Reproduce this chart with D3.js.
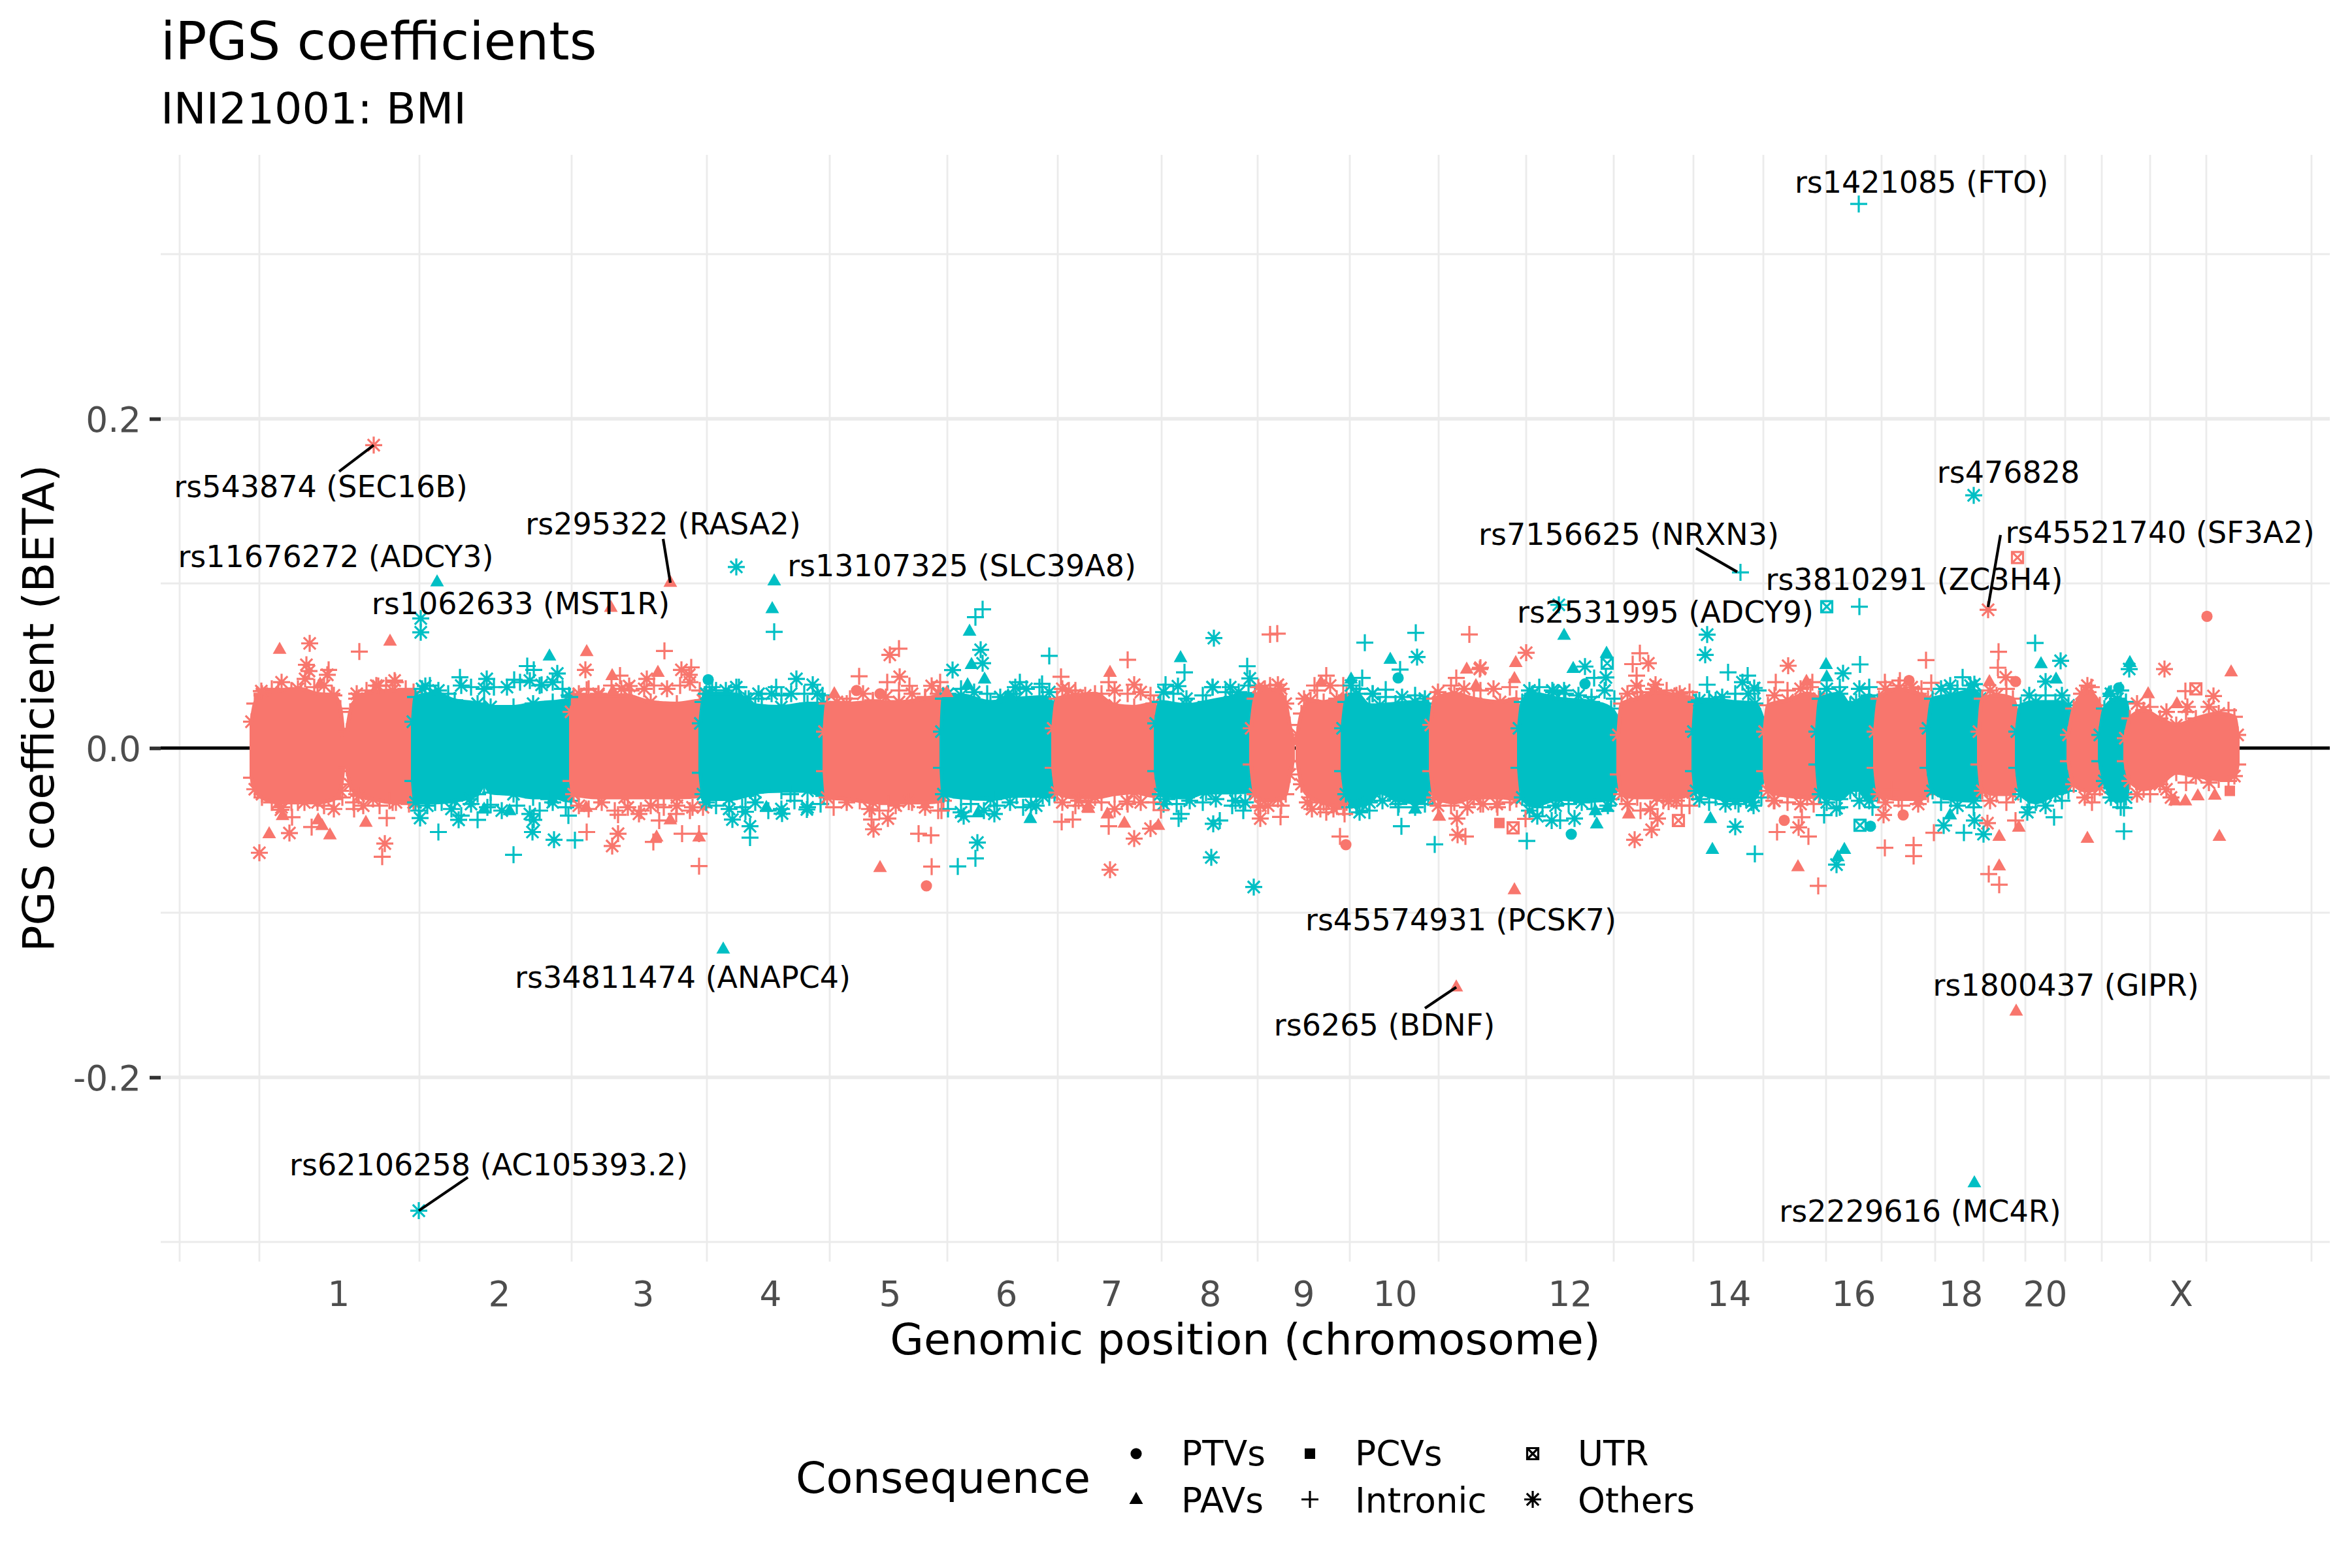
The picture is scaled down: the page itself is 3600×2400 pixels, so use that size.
<!DOCTYPE html>
<html><head><meta charset="utf-8">
<script src="https://d3js.org/d3.v7.min.js"></script>
<style>html,body{margin:0;background:#fff}svg{display:block}text{font-family:"DejaVu Sans",sans-serif}</style>
</head><body><div id="c"></div>
<script>
// Position = cumulative genomic position (Mb-like units); coefficient values are BETA x 1000.
const chromLabels=["1","2","3","4","5","6","7","8","9","10","12","14","16","18","20","X"];
const chromMids=[122,368,588,783,966,1144,1305,1456,1599,1739,2007,2250,2441,2605,2734,2942];
const chromEdges=[-121,1,246,479,686,874,1054,1223,1382,1529,1670,1806,1940,2074,2196,2303,2399,2484,2566,2640,2704,2765,2821,2895,2981,3142];
const yMajor=[-0.2,0,0.2];
const yMinor=[-0.3,-0.1,0.1,0.3];

// Dense band outline for each chromosome stretch: [position, upper, lower]
const bandsOdd=[
 [[-11,16,-18],[-6,27,-25],[5,33,-30],[30,35,-33],[60,36,-33],[90,33,-33],[115,32,-31],[125,24,-26],[129,10,-14]],
 [[135,10,-12],[140,22,-22],[150,30,-28],[175,34,-31],[205,35,-33],[237,34,-33]],
 [[478,22,-20],[482,31,-28],[520,32,-30],[560,32,-30],[600,28,-30],[640,27,-30],[680,29,-29],[684,12,-14]],
 [[866,10,-14],[870,27,-30],[900,27,-31],[940,28,-33],[980,28,-33],[1020,30,-33],[1048,32,-32],[1052,12,-15]],
 [[1216,12,-12],[1222,30,-27],[1250,32,-30],[1280,33,-30],[1310,26,-28],[1340,25,-27],[1370,27,-29],[1375,14,-15]],
 [[1519,12,-10],[1525,30,-28],[1540,36,-32],[1560,35,-31],[1572,27,-28],[1578,14,-16],[1583,4,-8]],
 [[1590,8,-8],[1596,21,-22],[1610,29,-30],[1630,28,-33],[1650,30,-35],[1665,32,-33],[1668,12,-14]],
 [[1794,14,-14],[1800,30,-30],[1830,33,-33],[1860,30,-30],[1900,28,-30],[1925,30,-31],[1930,12,-16]],
 [[2081,8,-16],[2086,27,-28],[2110,30,-30],[2140,34,-30],[2170,32,-30],[2195,30,-27],[2198,14,-18]],
 [[2305,10,-14],[2310,26,-26],[2340,29,-29],[2370,33,-30],[2388,30,-28],[2390,12,-14]],
 [[2474,10,-12],[2480,30,-28],[2510,36,-31],[2540,33,-31],[2555,30,-28],[2558,12,-12]],
 [[2633,10,-10],[2638,30,-26],[2660,32,-28],[2685,30,-28],[2694,12,-12]],
 [[2770,8,-8],[2778,24,-22],[2800,34,-26],[2818,26,-24],[2826,8,-8]],
 [[2857,6,-8],[2864,18,-20],[2885,23,-25],[2910,18,-22],[2935,14,-15],[2965,18,-17],[3000,21,-19],[3024,19,-17],[3029,8,-10]]
];
const bandsEven=[
 [[236,16,-20],[240,31,-33],[270,33,-33],[300,29,-32],[335,27,-28],[345,26,-22],[355,25,-27],[390,25,-28],[420,27,-30],[450,28,-30],[478,29,-32],[482,10,-15]],
 [[676,15,-15],[680,28,-28],[690,33,-31],[720,33,-31],[745,30,-29],[760,26,-27],[800,25,-26],[840,27,-26],[865,27,-29],[868,10,-12]],
 [[1045,10,-12],[1048,30,-28],[1075,32,-30],[1120,28,-31],[1160,30,-29],[1200,31,-29],[1218,26,-28],[1222,10,-12]],
 [[1373,15,-14],[1380,28,-28],[1420,26,-30],[1450,28,-27],[1490,31,-27],[1525,33,-26],[1530,14,-14]],
 [[1659,12,-14],[1664,28,-28],[1680,33,-35],[1700,26,-33],[1716,26,-27],[1740,27,-31],[1770,28,-33],[1790,27,-30],[1797,12,-13]],
 [[1929,12,-12],[1934,28,-30],[1950,33,-35],[1990,30,-31],[2040,28,-32],[2070,24,-31],[2082,16,-20]],
 [[2196,10,-14],[2200,28,-26],[2230,29,-30],[2260,28,-32],[2290,27,-30],[2305,14,-16]],
 [[2385,10,-10],[2390,30,-28],[2420,33,-31],[2436,26,-26],[2445,28,-24],[2465,32,-32],[2478,28,-28]],
 [[2555,12,-12],[2562,30,-26],[2590,32,-31],[2625,35,-32],[2635,30,-26],[2640,12,-12]],
 [[2691,10,-12],[2697,26,-28],[2720,28,-33],[2750,28,-28],[2770,26,-26],[2775,10,-12]],
 [[2818,8,-8],[2825,24,-20],[2845,30,-32],[2858,28,-30],[2864,8,-12]]
];
// Fringe of the dense bands, read along their upper and lower edges: [position, BETA x 1000]
const fringeOdd=[[5,32],[20,36],[35,40],[50,35],[65,33],[85,37],[100,38],[112,33],[150,33],[165,35],[180,38],[195,38],[208,41],[225,36],[235,31],
 [5,-28],[20,-33],[35,-36],[50,-33],[70,-33],[100,-35],[115,-37],[128,-30],[145,-33],[160,-35],[185,-35],[210,-33],[230,-34],
 [490,33],[505,36],[520,33],[540,38],[555,36],[570,35],[590,36],[605,38],[625,36],[645,38],[660,40],[675,35],
 [490,-35],[505,-37],[525,-33],[545,-38],[565,-36],[585,-38],[600,-35],[620,-36],[640,-35],[660,-38],[680,-36],
 [885,28],[905,30],[925,33],[940,29],[960,31],[980,35],[1000,33],[1020,31],[1040,33],
 [880,-36],[900,-33],[920,-32],[935,-37],[950,-38],[975,-35],[1000,-33],[1020,-36],[1040,-38],
 [1230,36],[1250,35],[1265,32],[1290,33],[1310,35],[1330,33],[1350,34],[1365,32],
 [1230,-33],[1250,-35],[1270,-33],[1290,-33],[1310,-37],[1330,-34],[1350,-33],[1370,-33],
 [1530,37],[1548,38],[1565,36],[1600,30],[1620,35],[1640,38],[1660,38],[1530,-36],[1545,-35],[1565,-35],[1605,-33],[1625,-37],[1645,-37],[1660,-36],
 [1805,34],[1825,38],[1845,36],[1870,35],[1890,36],[1915,37],[1805,-35],[1825,-35],[1850,-36],[1870,-34],[1895,-34],[1915,-33],
 [2095,33],[2115,34],[2135,36],[2155,35],[2175,33],[2190,34],[2095,-34],[2115,-38],[2130,-37],[2150,-32],[2170,-32],[2190,-35],
 [2320,32],[2340,35],[2360,36],[2375,37],[2320,-32],[2340,-33],[2360,-34],[2380,-34],
 [2490,36],[2510,38],[2530,37],[2545,36],[2490,-33],[2515,-35],[2540,-34],
 [2650,35],[2675,36],[2650,-32],[2675,-33],[2790,33],[2805,37],[2795,-30],[2810,-28],
 [2875,27],[2895,25],[2920,22],[2950,22],[2985,25],[3015,23],[2875,-28],[2895,-28],[2920,-25],[2950,-21],[2985,-21],[3015,-20]];
const fringeEven=[[250,36],[262,38],[275,35],[290,33],[310,38],[325,37],[345,36],[360,37],[380,37],[400,40],[415,41],[430,38],[450,40],[465,36],[475,32],
 [245,-38],[258,-35],[280,-33],[295,-37],[310,-41],[325,-34],[350,-36],[372,-38],[395,-35],[415,-40],[430,-38],[450,-33],[470,-36],
 [685,33],[700,35],[715,35],[735,37],[750,30],[770,30],[785,33],[800,32],[815,33],[835,33],[855,33],[863,32],
 [685,-33],[700,-35],[720,-37],[740,-36],[760,-33],[780,-38],[800,-37],[820,-32],[840,-36],[860,-34],
 [1055,33],[1075,36],[1095,34],[1115,33],[1135,31],[1155,33],[1175,36],[1195,37],[1210,34],
 [1055,-37],[1075,-39],[1090,-34],[1110,-38],[1130,-35],[1150,-33],[1170,-36],[1190,-35],[1210,-30],
 [1385,34],[1400,33],[1420,30],[1445,32],[1460,37],[1480,34],[1500,34],[1515,38],[1385,-34],[1405,-34],[1425,-32],[1445,-33],[1465,-31],[1490,-35],[1510,-33],
 [1672,38],[1685,36],[1705,33],[1725,31],[1750,31],[1770,32],[1785,30],[1670,-36],[1685,-39],[1700,-38],[1720,-32],[1745,-34],[1770,-36],[1785,-34],
 [1945,35],[1960,37],[1980,35],[2000,33],[2020,32],[2040,31],[2060,35],[2075,30],[1945,-38],[1965,-36],[1985,-35],[2005,-34],[2025,-33],[2045,-37],[2065,-35],
 [2205,29],[2220,30],[2240,31],[2260,33],[2280,33],[2295,35],[2205,-31],[2220,-33],[2245,-34],[2265,-34],[2285,-33],[2300,-30],
 [2400,36],[2420,37],[2450,36],[2465,37],[2400,-33],[2420,-36],[2450,-32],[2470,-36],
 [2575,36],[2600,36],[2620,38],[2575,-33],[2600,-35],[2625,-36],
 [2710,32],[2735,32],[2760,32],[2710,-36],[2735,-35],[2760,-32],
 [2835,33],[2850,35],[2835,-30],[2850,-36]];

// Individually visible variants: [position, BETA x 1000]
const ptvOdd=[[915,35],[951,33],[1022,-83.7],[1664,-58.7],[2335,-43.9],[2982,80],[2689,40.4],[2526,41],[2517,-40.6]];
const ptvEven=[[688,41.5],[1744,42.6],[2030,39],[2009,-52.3],[2467,-47.5],[2847,36.6]];
const pcvOdd=[[1899,-45.5],[3017,-26]];
const utrOdd=[[1920,-48.5],[2173,-44],[2692,115.7],[2965,36]];
const utrEven=[[2064,51.5],[2400,85.9],[2451,-46.9]];
const pavOdd=[[32,60],[201,65],[502,58.6],[541,44],[542,34.6],[611,46],[94,39],[91,-43.6],[16,-52],[109,-52.7],[36.5,-41],[97,-47],[164,-45],[609,-54],[674,-54],[630,-43.6],[501,-36],[539,85.5],[630,100.7],
 [951,-72.5],[881,33],[1053,33.7],[1269,-36],[1303,46],[1299,-40],[1325,-45.5],[1377,-46.9],[1807,-41.4],[1849,48],[1270,-36.6],[1626,40],[1863,38],
 [1924,52],[1922,42.3],[2097,-40],[2356,-72],[2369,40.6],[1922,-86],[2649,40.4],[2664,-53.6],[2694,-48],[2664,-71.5],[2799,-54.8],[3001,-53.6],[3019,46.3],[2936,27],[2892,33],[2968,-29],[2994,-28.6],[2933,-32],[2949,-32],
 [1833,-145],[2690,-159.7]];
const pavEven=[[273,101],[445,56],[345,-37],[384,-38],[789,101.6],[786,84.7],[1088,71],[1091,50.8],[1085,38.5],[1111,42],[1181,-42.8],[1147,32],[777,-36],[1101,-39.3],
 [1411,55],[1732,54],[1672,42],[1770,-37],[1998,68.6],[2012,48.4],[2063,57.6],[2399,50.8],[2400,43.3],[2225,-61.5],[2427,-61.5],[2417,-66],[2048,-46],[2046,-38],[2064,-36],[2222,-42.8],
 [2728,51.3],[2864,52],[2751,42],[2832,33.7],[2589,-40.6],[711,-122],[2626,-264]];
const plusOdd=[[154,58.6],[621,59],[107,47.5],[662,49],[553,44],[502,35.4],[209,40],[51,-42],[81,-48],[196,-42.5],[189,-66],[146,-37],[200,-32],[502,-51],[604,-57],[550,-40.5],[613,-44],[648,-52],[674,-71.7],[611,-34.5],[639,-40],[674,-52],
 [919,43.6],[980,60.4],[962,40],[996,37.8],[1043,40],[1010,-52],[1029,-53],[1030,-72],[938,-43.4],[1228,43.3],[1229,-44.8],[1246,-43.4],[1045,-38],[964,-34],
 [1330,53.6],[1548,69],[1559,69.5],[1853,69],[1301,-47.5],[1381,-37.7],[1655,-53.7],[1564,-41.8],[1662,-40],[1634,-39],[1808,-31],[1634,44],[1616,38],[1833,42.6],[1847,-53.7],[1301,40],
 [2114,57.6],[2103,51],[2109,44],[2322,40],[2324,-51],[2362,-42],[2372,-53.7],[2387,-83.7],[1896,-36],[1939,-43],[2178,-35],[2378,40],
 [2552,53.4],[2663,58.5],[2662,48.8],[2560,39.6],[2512,41],[2489,40],[2949,34.6],[2489,-60.6],[2533,-59],[2533,-65.6],[2564,-51.4],[2648,-76.5],[2664,-83],[2689,-44],[2806,-33],[2499,-25]];
const plusEven=[[308,43],[411,49.8],[421,47.5],[391,41.5],[476,31],[275,-51],[390,-64.8],[484,-56],[335,-43.6],[474,-41],[355,-34.5],[444,-31],
 [789,70.6],[1108,84.3],[1097,79.5],[1210,56],[1165,40],[1199,39],[1097,-67],[1070,-71.9],[752,-54.4],[814,-28],[1125,-31],[792,37],[694,37],
 [1417,46],[1513,49.7],[1693,64],[1771,70],[1747,47.7],[1689,42.6],[1725,35.5],[1408,-42.8],[1471,-44],[1749,-47.5],[1800,-58.5],[1388,38.5],[1412,-40],[1507,-38],[1744,-36],
 [1941,-56.4],[2249,46],[2279,44],[2217,38.5],[2290,-64.3],[2451,50.8],[2450,85.9],[2044,42.6],[2396,-40.7],[1992,-44],
 [2719,63.8],[2608,43],[2855,-50.6],[2610,-51.4],[2748,-42],[2855,-36.4],[2449,330.5],[2268,106.7]];
const otherOdd=[[78,63.6],[73,50.6],[77,46.8],[71,42],[105,44.5],[4,34.6],[183,37.7],[500,47.5],[594,42],[567,37.7],[647,47.5],[659,44.5],[47,-51.6],[34,-37.5],[193,-58],[550,-52],[541,-59.5],[582,-40],[664,-36],[1,-63.6],[153,-29],[176,184],
 [966,56.6],[981,43.3],[1030,37.8],[941,-49.3],[963,-42.8],[995,-32.5],[1240,35],[1255,-32],
 [1340,38.5],[1303,-73.9],[1340,-55],[1365,-48.9],[1533,-42.8],[1533,-35],[1560,38.5],[1835,-52.7],[1834,-42.8],[1612,-37],[1869,48],[1329,-32.5],
 [1940,57.9],[1870,48.8],[2109,37.8],[2127,51.5],[2138,38.5],[2141,-42.8],[2132,-49.6],[2106,-55.7],[2341,50],[2357,-48.2],[1874,-34],[2158,-32.5],[2319,-32],
 [2647,84],[2674,43],[2917,48],[2799,38],[2992,31.6],[2952,25],[2646,-45.6],[2487,-40.6],[2927,-30]];
const otherEven=[[248,78.7],[248,70.3],[255,37.7],[349,42],[433,38.4],[457,45.3],[247,-42.5],[306,-43.6],[323,-31],[419,-51],[452,-55.7],[421,-43.6],[245,-281],
 [731,110],[1062,47.4],[1105,59.7],[1108,51.5],[731,37],[823,42],[848,38.5],[1158,37],[725,-43.4],[752,-47.5],[745,-38.7],[801,-39.8],[839,-37.3],[1100,-57.4],[1079,-41.4],[1126,-40],[1182,-34.6],[765,33],
 [1462,66.8],[1517,42.3],[1773,55.3],[1705,33],[1458,-66.4],[1523,-84.4],[1461,-46],[1407,37.6],[1460,37],[1487,37],[1390,-31],[1495,-32],[1689,-34],
 [2217,68.9],[2214,56.6],[2030,49.5],[2062,42.9],[2425,45.4],[1957,-41.4],[1979,-44],[2014,-42.8],[2260,-47.8],[2288,-35],[2415,-70.8],[2289,36.5],[2271,40],[1982,34],[1998,35],[2415,-36.6],[1990,87],
 [2758,53],[2863,48],[2735,40.4],[2589,38],[2626,38.8],[2579,-47],[2640,-52.3],[2626,-44],[2707,-39],[2625,153.5]];

// Annotated variants: text, label position, label BETA x 1000
const labelTexts=["rs1421085 (FTO)","rs543874 (SEC16B)","rs295322 (RASA2)","rs11676272 (ADCY3)","rs1062633 (MST1R)","rs13107325 (SLC39A8)","rs7156625 (NRXN3)","rs3810291 (ZC3H4)","rs2531995 (ADCY9)","rs476828","rs45521740 (SF3A2)","rs45574931 (PCSK7)","rs34811474 (ANAPC4)","rs6265 (BDNF)","rs1800437 (GIPR)","rs62106258 (AC105393.2)","rs2229616 (MC4R)"];
const labelPos=[2545,95,619,118,401,1076,2097,2534,2153,2678,2910,1840,649,1723,2766,352,2543];
const labelBeta=[344,159,136.5,116.3,88,111,130,102.7,82.6,167.5,131,-104,-139,-168,-144,-252.8,-281];
// Leader lines: [from position, from BETA x 1000, to position, to BETA x 1000]
const leaders=[[123,168,176,184],[619,127,630,100.4],[2200,121.4,2263,107],[2666,129.4,2647,85.7],[320,-260.7,245,-281],[1785,-158,1833,-145.2]];

const legendRows=[["PTVs","PCVs","UTR"],["PAVs","Intronic","Others"]];

const W=3600,H=2400,pL=246,pR=3566,pT=237,pB=1931;
const ODD="#F8766D",EVEN="#00BFC4",GRID="#EBEBEB",AXT="#4D4D4D";
const x=d3.scaleLinear().domain([-150,3170]).range([pL,pR]);
const y=d3.scaleLinear().domain([-786/2520,908/2520]).range([pB,pT]);
const b=m=>y(m/1000);

const svg=d3.select("#c").append("svg").attr("width",W).attr("height",H).attr("viewBox",`0 0 ${W} ${H}`);
svg.append("rect").attr("width",W).attr("height",H).attr("fill","#fff");

// grid
const g=svg.append("g");
g.selectAll(".v").data(chromEdges).join("line").attr("x1",d=>x(d)).attr("x2",d=>x(d)).attr("y1",pT).attr("y2",pB).attr("stroke",GRID).attr("stroke-width",2.8);
g.selectAll(".m").data(yMinor).join("line").attr("x1",pL).attr("x2",pR).attr("y1",d=>y(d)).attr("y2",d=>y(d)).attr("stroke",GRID).attr("stroke-width",2.8);
g.selectAll(".M").data(yMajor).join("line").attr("x1",pL).attr("x2",pR).attr("y1",d=>y(d)).attr("y2",d=>y(d)).attr("stroke",GRID).attr("stroke-width",5.6);
svg.append("line").attr("x1",pL).attr("x2",pR).attr("y1",y(0)).attr("y2",y(0)).attr("stroke","#000").attr("stroke-width",5);

// axes
const ax=svg.append("g").attr("transform",`translate(0,${pB})`).call(d3.axisBottom(x).tickValues(chromMids).tickFormat((d,i)=>chromLabels[i]).tickSize(0));
ax.select(".domain").remove();
ax.selectAll("text").attr("font-size",53.3).attr("fill",AXT).attr("y",0).attr("dy",0).attr("transform","translate(0,68)").attr("font-family","DejaVu Sans");
const ay=svg.append("g").attr("transform",`translate(${pL},0)`).call(d3.axisLeft(y).tickValues(yMajor).tickFormat(d3.format(".1f")).tickSize(17));
ay.select(".domain").remove();
ay.selectAll("line").attr("stroke","#333333").attr("stroke-width",5.6);
ay.selectAll("text").attr("font-size",53.3).attr("fill",AXT).attr("x",-30).attr("dy","0.36em").attr("font-family","DejaVu Sans").text(d=>d3.format(".1f")(d).replace("−","-"));

// symbols
const ARM=13, DIAG=ARM/Math.SQRT2;
const plusPath=`M${-ARM},0H${ARM}M0,${-ARM}V${ARM}`;
const astPath=plusPath+`M${-DIAG},${-DIAG}L${DIAG},${DIAG}M${-DIAG},${DIAG}L${DIAG},${-DIAG}`;
const triPath=`M0,-11.5L10.5,7L-10.5,7Z`;
const circPath=d3.symbol(d3.symbolCircle,Math.PI*8.6*8.6)();
const sqPath=`M-8,-8H8V8H-8Z`;
const utrPath=`M-8.5,-8.5H8.5V8.5H-8.5ZM-8.5,-8.5L8.5,8.5M-8.5,8.5L8.5,-8.5`;
const shapes={ptv:{d:circPath,f:1},pav:{d:triPath,f:1},pcv:{d:sqPath,f:1},plus:{d:plusPath,f:0},utr:{d:utrPath,f:0},other:{d:astPath,f:0}};
function mark(sel,s,col){
 return sel.attr("d",s.d).attr("fill",s.f?col:"none").attr("stroke",s.f?"none":col).attr("stroke-width",s.f?0:3.2);
}

// dense bands, drawn in chromosome order so later chromosomes sit on top
const area=d3.area().x(d=>x(d[0])).y0(d=>b(d[2])).y1(d=>b(d[1])).curve(d3.curveMonotoneX);
const bands=[...bandsOdd.map(d=>({pts:d,col:ODD})),...bandsEven.map(d=>({pts:d,col:EVEN}))].sort((a,c)=>a.pts[0][0]-c.pts[0][0]);
const fringeOf=(B)=>{
 const lo=B.pts[0][0],hi=B.pts[B.pts.length-1][0];
 return (B.col===ODD?fringeOdd:fringeEven).filter(p=>p[0]>=lo&&p[0]<=hi);
};
const bg=svg.append("g");
bands.forEach(B=>{
 const gr=bg.append("g");
 const rim=[];
 B.pts.forEach((p,i)=>{rim.push([p[0],p[1],i]);rim.push([p[0],p[2],i+1]);});
 fringeOf(B).forEach((p,i)=>rim.push([p[0],p[1],i]));
 gr.selectAll("path.r").data(rim).join("path").attr("class","r").attr("transform",d=>`translate(${x(d[0])},${b(d[1])})`)
   .attr("d",d=>d[2]%2?plusPath:astPath).attr("fill","none").attr("stroke",B.col).attr("stroke-width",3.2);
 gr.append("path").attr("d",area(B.pts)).attr("fill",B.col).attr("stroke",B.col).attr("stroke-width",6).attr("stroke-linejoin","round");
});

// individual points
const series=[[ptvOdd,"ptv",ODD],[ptvEven,"ptv",EVEN],[pavOdd,"pav",ODD],[pavEven,"pav",EVEN],[pcvOdd,"pcv",ODD],[plusOdd,"plus",ODD],[plusEven,"plus",EVEN],[utrOdd,"utr",ODD],[utrEven,"utr",EVEN],[otherOdd,"other",ODD],[otherEven,"other",EVEN]];
series.forEach(([data,k,col])=>{
 mark(svg.append("g").selectAll("path").data(data).join("path").attr("transform",d=>`translate(${x(d[0])},${b(d[1])})`),shapes[k],col);
});

// leaders and labels
svg.append("g").selectAll("line").data(leaders).join("line").attr("x1",d=>x(d[0])).attr("y1",d=>b(d[1])).attr("x2",d=>x(d[2])).attr("y2",d=>b(d[3])).attr("stroke","#000").attr("stroke-width",4.2);
svg.append("g").selectAll("text").data(labelTexts).join("text").attr("x",(d,i)=>x(labelPos[i])).attr("y",(d,i)=>b(labelBeta[i])).attr("dy","0.36em").attr("text-anchor","middle").attr("font-size",46).attr("fill","#000").text(d=>d);

// titles
svg.append("text").attr("x",246).attr("y",91).attr("font-size",80).text("iPGS coefficients");
svg.append("text").attr("x",246).attr("y",189).attr("font-size",66.7).text("INI21001: BMI");
svg.append("text").attr("x",(pL+pR)/2).attr("y",2073).attr("text-anchor","middle").attr("font-size",66.7).text("Genomic position (chromosome)");
svg.append("text").attr("transform",`translate(82,${(pT+pB)/2}) rotate(-90)`).attr("text-anchor","middle").attr("font-size",66.7).text("PGS coefficient (BETA)");

// legend
svg.append("text").attr("x",1218).attr("y",2285).attr("font-size",66.7).text("Consequence");
const legKeys=[["ptv","pcv","utr"],["pav","plus","other"]];
const colSym=[1739,2005,2346],colTxt=[1808,2074,2415],rowSym=[2225,2295],rowTxt=[2243,2315];
legendRows.forEach((r,ri)=>r.forEach((t,ci)=>{
 mark(svg.append("path").attr("transform",`translate(${colSym[ci]},${rowSym[ri]})`),shapes[legKeys[ri][ci]],"#000");
 svg.append("text").attr("x",colTxt[ci]).attr("y",rowTxt[ri]).attr("font-size",53.3).text(t);
}));
</script></body></html>
